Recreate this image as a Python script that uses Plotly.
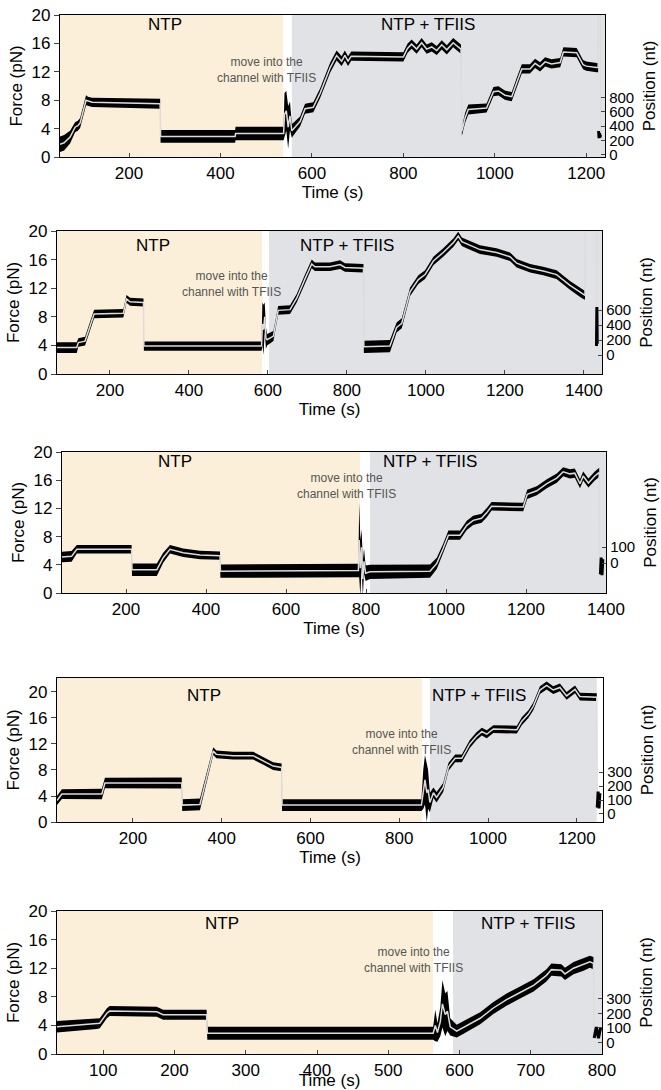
import plotly.graph_objects as go

W, H = 661, 1090

# ---------------- data ----------------
# Panel 1
p1_t = [49, 58, 71, 82, 88, 93, 106, 110, 119, 268, 269, 432, 433, 538, 540, 544, 548, 552, 556, 559, 574, 585,
        603, 618, 640, 654, 665, 672, 679, 686, 800, 809, 818, 829, 840, 851, 862, 873, 884, 895, 909, 920, 926,
        928, 935, 942, 982, 997, 1008, 1022, 1037, 1048, 1059, 1077, 1088, 1099, 1110, 1124, 1143, 1150, 1179,
        1193, 1200, 1223, 1226]
p1_f = [1.8, 2.0, 2.8, 4.2, 4.4, 4.8, 8.0, 7.9, 7.7, 7.5, 2.9, 2.9, 3.3, 3.3, 6.0, 6.5, 4.2, 5.8, 3.7, 3.9, 5.0, 6.8,
        7.0, 9.0, 12.6, 14.3, 13.5, 14.3, 13.5, 14.2, 14.1, 15.3, 15.9, 15.2, 16.1, 15.2, 15.5, 15.0, 15.8, 15.1,
        16.1, 15.5, 15.2, 3.6, 5.5, 6.7, 6.9, 9.2, 9.3, 8.7, 8.5, 10.5, 12.4, 12.4, 13.2, 12.7, 13.4, 13.1, 13.3,
        14.8, 14.7, 13.0, 12.8, 12.6, 12.6]
p1_w = [1.1, 1.1, 0.9, 0.7, 0.7, 0.7, 0.7, 0.6, 0.65, 0.7, 0.9, 0.9, 0.95, 0.95, 3.0, 2.8, 3.0, 2.0, 1.0, 0.9, 0.7,
        0.7, 0.7, 0.7, 0.7, 0.7, 0.7, 0.7, 0.7, 0.65, 0.65, 0.65, 0.65, 0.65, 0.65, 0.65, 0.65, 0.65, 0.65, 0.65,
        0.65, 0.65, 0.65, 0.6, 0.7, 0.7, 0.65, 0.65, 0.65, 0.65, 0.65, 0.65, 0.65, 0.65, 0.65, 0.65, 0.65, 0.65,
        0.65, 0.65, 0.65, 0.65, 0.65, 0.65, 0.65]
p1_end_t = [1227, 1231, 1232]
p1_end_f = [25, 25, 3.5]
p1_pos_t = [1227, 1228, 1229, 1230, 1231]
p1_pos = [330, 230, 300, 240, 280]

# Panel 2
p2_t = [66, 116, 120, 137, 160, 234, 242, 251, 285, 286, 584, 586, 589, 592, 595, 598, 614, 626, 656, 673, 694, 711,
        719, 757, 783, 795, 842, 843, 909, 926, 939, 960, 981, 998, 1019, 1044, 1070, 1082, 1091, 1103, 1137, 1179,
        1213, 1230, 1264, 1297, 1331, 1365, 1395, 1403]
p2_f = [3.7, 3.7, 4.4, 4.6, 8.4, 8.5, 10.5, 10.1, 10.0, 3.9, 3.9, 7.0, 6.2, 8.0, 5.0, 4.8, 5.3, 8.9, 9.0, 10.6, 13.3,
        15.4, 15.0, 15.0, 15.3, 14.9, 14.8, 3.8, 3.9, 6.5, 7.1, 11.5, 13.2, 13.9, 15.8, 17.0, 18.4, 19.3, 18.5, 18.2,
        17.4, 17.0, 16.4, 15.5, 14.8, 14.4, 13.9, 12.4, 11.2, 11.0]
p2_w = [0.75, 0.75, 0.6, 0.6, 0.6, 0.6, 0.55, 0.55, 0.55, 0.65, 0.65, 3.0, 3.5, 2.0, 1.5, 0.8, 0.7, 0.6, 0.6, 0.6,
        0.6, 0.6, 0.6, 0.6, 0.6, 0.6, 0.6, 0.85, 0.85, 0.7, 0.7, 0.6, 0.6, 0.6, 0.6, 0.6, 0.6, 0.6, 0.6, 0.6, 0.6,
        0.6, 0.6, 0.6, 0.6, 0.6, 0.6, 0.6, 0.6, 0.6]
p2_end_t = [1404, 1432, 1433]
p2_end_f = [25, 25, 3.6]
p2_pos_t = [1432, 1433, 1434]
p2_pos = [120, 640, 150]

# Panel 3
p3_t = [40, 64, 77, 214, 215, 277, 293, 310, 343, 385, 435, 436, 781, 783, 786, 789, 792, 795, 799, 810, 960, 977,
        993, 1006, 1035, 1052, 1068, 1089, 1102, 1114, 1193, 1203, 1227, 1252, 1277, 1293, 1310, 1322, 1335, 1343,
        1356, 1372, 1383]
p3_f = [5.1, 5.2, 6.2, 6.2, 3.3, 3.3, 5.0, 6.2, 5.7, 5.4, 5.3, 3.1, 3.2, 7.5, 3.5, 6.5, 2.0, 4.5, 2.8, 3.0, 3.1, 4.2,
        6.3, 8.2, 8.2, 9.6, 10.3, 10.6, 11.4, 12.3, 12.2, 14.0, 14.5, 15.5, 16.3, 17.2, 16.9, 17.0, 15.5, 16.6,
        15.6, 16.6, 17.1]
p3_w = [0.75, 0.75, 0.6, 0.6, 0.9, 0.9, 0.7, 0.6, 0.6, 0.6, 0.6, 0.95, 0.95, 5.3, 4.0, 2.5, 2.5, 1.8, 1.1, 1.0,
        0.95, 0.8, 0.7, 0.65, 0.65, 0.65, 0.65, 0.65, 0.65, 0.6, 0.6, 0.65, 0.65, 0.65, 0.65, 0.65, 0.65, 0.65,
        0.65, 0.65, 0.65, 0.65, 0.65]
p3_end_t = [1384, 1393]
p3_end_f = [4.6, 4.6]
p3_pos_t = [1386, 1388, 1390, 1392]
p3_pos = [-70, 35, -75, 25]

# Panel 4
p4_t = [29, 40, 130, 137, 310, 311, 351, 381, 388, 426, 471, 494, 516, 535, 536, 850, 854, 858, 862, 865, 869, 877,
        884, 899, 911, 926, 941, 959, 974, 986, 997, 1012, 1065, 1076, 1091, 1102, 1117, 1132, 1147, 1162, 1177,
        1196, 1207, 1245]
p4_f = [3.3, 4.3, 4.3, 6.0, 6.0, 2.6, 2.7, 10.9, 10.4, 10.2, 10.2, 9.4, 8.6, 8.4, 2.6, 2.6, 5.0, 6.5, 4.5, 5.0, 3.0,
        4.5, 3.8, 5.3, 8.5, 9.8, 9.8, 12.0, 13.2, 13.9, 13.5, 14.3, 14.2, 15.5, 16.6, 17.8, 20.3, 21.0, 20.3, 20.7,
        19.4, 20.4, 19.3, 19.2]
p4_w = [0.7, 0.75, 0.8, 0.8, 0.85, 0.9, 0.9, 0.6, 0.6, 0.6, 0.6, 0.6, 0.6, 0.6, 0.9, 0.9, 3.0, 3.8, 4.5, 3.0, 1.5,
        0.8, 0.8, 0.7, 0.6, 0.6, 0.6, 0.6, 0.6, 0.6, 0.6, 0.6, 0.6, 0.6, 0.6, 0.6, 0.6, 0.6, 0.6, 0.6, 0.6, 0.6,
        0.6, 0.6]
p4_end_t = [1246, 1252]
p4_end_f = [2.5, 2.5]
p4_pos_t = [1246, 1248, 1250, 1252]
p4_pos = [45, 160, 40, 150]

# Panel 5
p5_t = [35, 91, 95, 105, 109, 175, 184, 245, 246, 563, 566, 569, 573, 576, 580, 583, 587, 596, 605, 629, 647, 666,
        685, 704, 722, 729, 743, 748, 760, 774, 783, 788]
p5_f = [3.8, 4.2, 4.3, 5.7, 6.0, 5.9, 5.5, 5.5, 2.9, 2.9, 4.0, 3.0, 4.5, 7.0, 5.5, 6.0, 3.8, 3.2, 3.7, 5.0, 6.4, 7.6,
        8.6, 9.6, 11.0, 11.8, 11.7, 11.2, 12.0, 12.5, 12.9, 12.7]
p5_w = [0.8, 0.7, 0.7, 0.7, 0.7, 0.7, 0.7, 0.7, 0.9, 0.9, 2.2, 1.3, 2.0, 3.3, 3.0, 2.8, 1.2, 0.9, 0.9, 0.85, 0.85,
        0.85, 0.85, 0.85, 0.85, 0.85, 0.85, 0.85, 0.85, 0.85, 0.85, 0.85]
p5_end_t = [789, 799]
p5_end_f = [2.6, 2.6]
p5_pos_t = [789, 792, 795, 798]
p5_pos = [30, 105, 28, 100]

# condition windows (s): NTP until, NTP+TFIIS from/to
ntp_end = [537, 585, 785, 851, 563]
tfiis_start = [556, 603, 810, 869, 591]
tfiis_end = [1241, 1446, 1400, 1245, 800]

# tick labels
x_ticks = [[200, 400, 600, 800, 1000, 1200],
           [200, 400, 600, 800, 1000, 1200, 1400],
           [200, 400, 600, 800, 1000, 1200, 1400],
           [200, 400, 600, 800, 1000, 1200],
           [100, 200, 300, 400, 500, 600, 700, 800]]
force_ticks = [0, 4, 8, 12, 16, 20]
pos_ticks = [[0, 200, 400, 600, 800],
             [0, 200, 400, 600],
             [0, 100],
             [0, 100, 200, 300],
             [0, 100, 200, 300]]

# ---------------- layout helpers ----------------
panels = [
    dict(t=p1_t, f=p1_f, w=p1_w, et=p1_end_t, ef=p1_end_f, pt=p1_pos_t, pv=p1_pos),
    dict(t=p2_t, f=p2_f, w=p2_w, et=p2_end_t, ef=p2_end_f, pt=p2_pos_t, pv=p2_pos),
    dict(t=p3_t, f=p3_f, w=p3_w, et=p3_end_t, ef=p3_end_f, pt=p3_pos_t, pv=p3_pos),
    dict(t=p4_t, f=p4_f, w=p4_w, et=p4_end_t, ef=p4_end_f, pt=p4_pos_t, pv=p4_pos),
    dict(t=p5_t, f=p5_f, w=p5_w, et=p5_end_t, ef=p5_end_f, pt=p5_pos_t, pv=p5_pos),
]
# pixel boxes of each plot area: (left, right, top, bottom)
boxes = [(60, 605, 15, 157), (57, 602, 231, 374), (62, 606, 452, 593), (57, 603, 678, 822), (57, 602, 911, 1054)]
x_ranges = [[49, 1241], [66, 1446], [40, 1400], [29, 1259], [35, 800]]
y_ranges = [[0, 20], [0, 20], [0, 20], [0, 22.15], [0, 20]]
p_ranges = [[-35, 1958], [-253, 1654], [-187, 694], [-58, 978], [-81, 909]]
ntp_lbl = [(279, 18.6), (309, 18.0), (322, 18.6), (360, 19.5), (267, 18.2)]
tfiis_lbl = [(854, 18.6), (800, 18.0), (960, 18.6), (980, 19.5), (696, 18.2)]
move_lbl = [(500, 12.25), (507, 12.6), (752, 15.2), (806, 12.3), (535, 13.1)]

FONT = "Liberation Sans, Arial, Helvetica, sans-serif"
BEIGE = "#fcefd9"
GREY = "#e1e2e6"

fig = go.Figure()
layout = dict(width=W, height=H, margin=dict(l=0, r=0, t=0, b=0), showlegend=False,
              paper_bgcolor="white", plot_bgcolor="white", font=dict(family=FONT, size=17, color="black"))
shapes, annots = [], []

for i, p in enumerate(panels):
    k = i + 1
    xs = "x" if k == 1 else f"x{k}"
    ys = "y" if k == 1 else f"y{k}"
    ps = f"y{k + 5}"
    l, r, tp, bt = boxes[i]
    xd = [l / W, r / W]
    yd = [(H - bt) / H, (H - tp) / H]

    upper = [a + b for a, b in zip(p["f"], p["w"])]
    lower = [a - b for a, b in zip(p["f"], p["w"])]
    fig.add_trace(go.Scatter(x=p["t"] + p["t"][::-1], y=upper + lower[::-1], fill="toself",
                             fillcolor="black", line=dict(width=0, color="black"), mode="lines",
                             hoverinfo="skip", xaxis=xs, yaxis=ys))
    fig.add_trace(go.Scatter(x=p["t"] + p["et"], y=p["f"] + p["ef"], mode="lines",
                             line=dict(color="#dcdcdc", width=1.5), xaxis=xs, yaxis=ys))
    fig.add_trace(go.Scatter(x=p["pt"], y=p["pv"], mode="lines", line=dict(color="black", width=3),
                             xaxis=xs, yaxis=ps))

    xa = "xaxis" if k == 1 else f"xaxis{k}"
    ya = "yaxis" if k == 1 else f"yaxis{k}"
    pa = f"yaxis{k + 5}"
    layout[xa] = dict(domain=xd, range=x_ranges[i], anchor=ys, tickvals=x_ticks[i], ticks="inside", ticklen=4,
                      tickwidth=1.2, showline=True, linecolor="black", linewidth=1.3, mirror=True,
                      showgrid=False, zeroline=False, tickfont=dict(size=17), automargin=False,
                      title=dict(text="Time (s)", font=dict(size=17), standoff=0))
    layout[ya] = dict(domain=yd, range=y_ranges[i], anchor=xs, tickvals=force_ticks, ticks="outside", ticklen=5,
                      tickwidth=1.2, showline=True, linecolor="black", linewidth=1.3, mirror=True,
                      showgrid=False, zeroline=False, tickfont=dict(size=17), automargin=False,
                      title=dict(text="Force (pN)", font=dict(size=17), standoff=4))
    layout[pa] = dict(range=p_ranges[i], overlaying=ys, anchor=xs, side="right", tickvals=pos_ticks[i],
                      ticks="inside", ticklen=4, tickwidth=1.2, showline=True, linecolor="black", linewidth=1.3,
                      showgrid=False, zeroline=False, tickfont=dict(size=15), automargin=False,
                      title=dict(text="Position (nt)", font=dict(size=17), standoff=9))

    shapes.append(dict(type="rect", xref=xs, yref=f"{ys} domain", x0=x_ranges[i][0], x1=ntp_end[i], y0=0, y1=1,
                       fillcolor=BEIGE, line=dict(width=0), layer="below"))
    shapes.append(dict(type="rect", xref=xs, yref=f"{ys} domain", x0=tfiis_start[i], x1=tfiis_end[i], y0=0, y1=1,
                       fillcolor=GREY, line=dict(width=0), layer="below"))

    annots.append(dict(x=ntp_lbl[i][0], y=ntp_lbl[i][1], xref=xs, yref=ys, text="NTP", showarrow=False,
                       font=dict(size=17, color="black")))
    annots.append(dict(x=tfiis_lbl[i][0], y=tfiis_lbl[i][1], xref=xs, yref=ys, text="NTP + TFIIS",
                       showarrow=False, font=dict(size=17, color="black")))
    annots.append(dict(x=move_lbl[i][0], y=move_lbl[i][1], xref=xs, yref=ys,
                       text="move into the<br>channel with TFIIS", showarrow=False,
                       font=dict(size=12, color="#555555")))

layout["shapes"] = shapes
layout["annotations"] = annots
fig.update_layout(**layout)
fig.write_html("out.html", config={"displayModeBar": False},
               post_script="document.body.style.margin='0';document.body.style.overflow='hidden';")
